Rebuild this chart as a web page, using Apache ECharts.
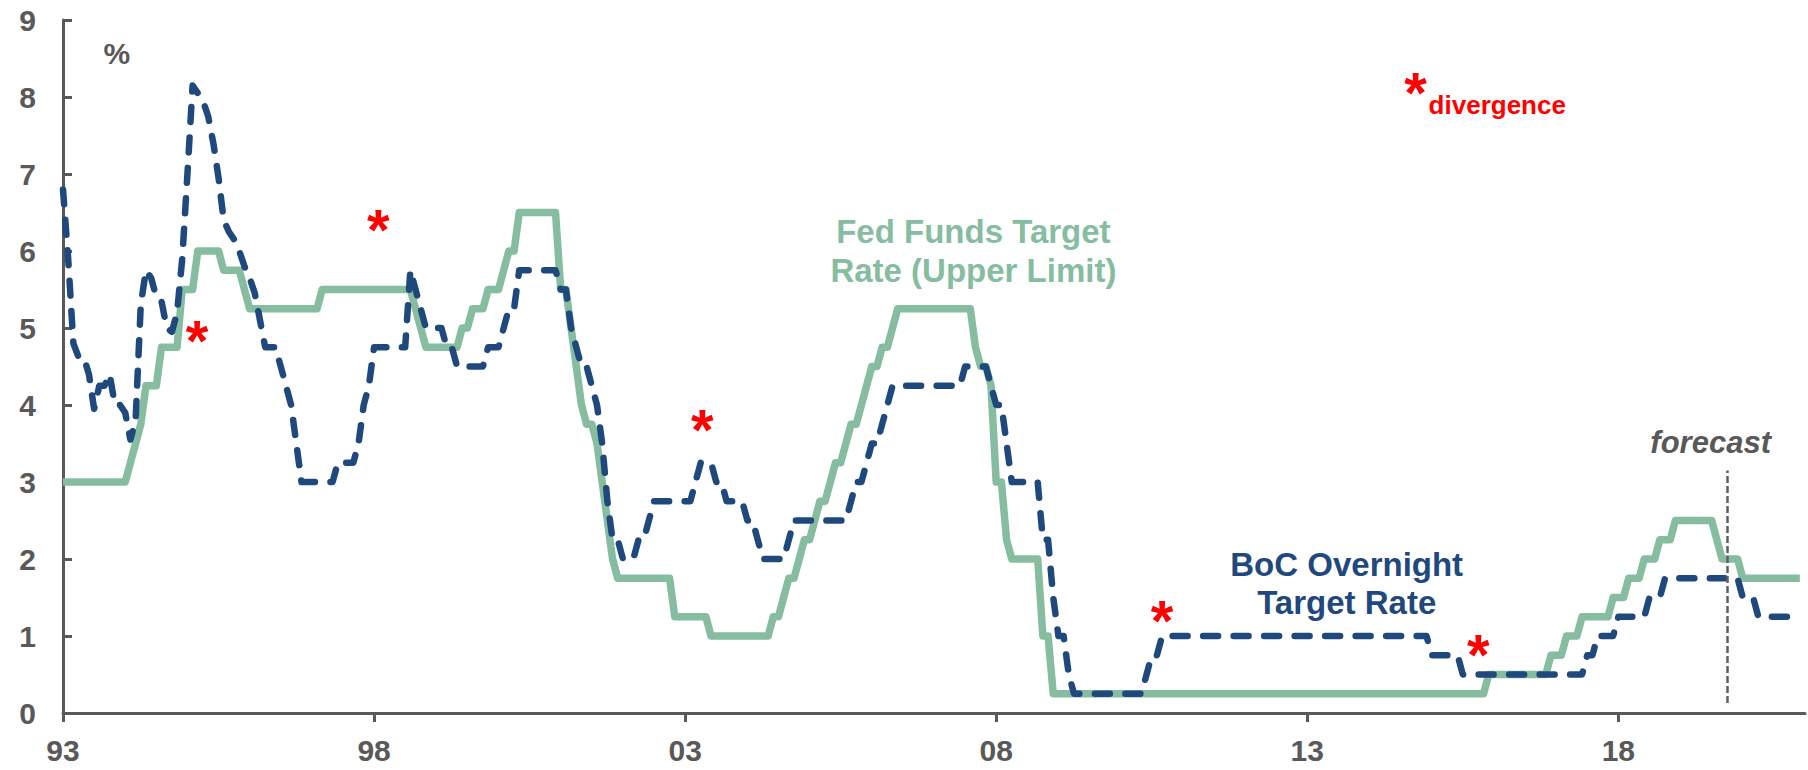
<!DOCTYPE html>
<html>
<head>
<meta charset="utf-8">
<script src="https://cdn.jsdelivr.net/npm/echarts@6.0.0/dist/echarts.min.js"></script>
<style>
  html, body { margin: 0; padding: 0; background: #ffffff; }
  #chart { width: 1808px; height: 770px; }
</style>
</head>
<body>
<div id="chart"></div>
<script>
// Policy rates, end-of-month levels. Each entry starts a level that holds
// until the next entry.
const fedStartMonths = [
  '1993-01', '1994-02', '1994-03', '1994-04', '1994-05', '1994-08', '1994-12',
  '1995-03', '1995-08', '1995-12', '1996-01', '1997-03', '1998-09', '1998-10',
  '1998-11', '1999-06', '1999-08', '1999-11', '2000-02', '2000-03', '2000-05',
  '2001-01', '2001-03', '2001-04', '2001-05', '2001-06', '2001-08', '2001-09',
  '2001-10', '2001-11', '2001-12', '2002-11', '2003-06', '2004-06', '2004-08',
  '2004-09', '2004-11', '2004-12', '2005-02', '2005-03', '2005-05', '2005-06',
  '2005-08', '2005-09', '2005-11', '2005-12', '2006-01', '2006-03', '2006-05',
  '2006-06', '2007-09', '2007-10', '2007-12', '2008-01', '2008-03', '2008-04',
  '2008-10', '2008-12', '2015-12', '2016-12', '2017-03', '2017-06', '2017-12',
  '2018-03', '2018-06', '2018-09', '2018-12', '2019-08', '2019-09', '2020-01'
];
const fedRates = [
  3.00, 3.25, 3.50, 3.75, 4.25, 4.75, 5.50,
  6.00, 5.75, 5.50, 5.25, 5.50, 5.25, 5.00,
  4.75, 5.00, 5.25, 5.50, 5.75, 6.00, 6.50,
  5.50, 5.00, 4.50, 4.00, 3.75, 3.50, 3.00,
  2.50, 2.00, 1.75, 1.25, 1.00, 1.25, 1.50,
  1.75, 2.00, 2.25, 2.50, 2.75, 3.00, 3.25,
  3.50, 3.75, 4.00, 4.25, 4.50, 4.75, 5.00,
  5.25, 4.75, 4.50, 4.25, 3.00, 2.25, 2.00,
  1.00, 0.25, 0.50, 0.75, 1.00, 1.25, 1.50,
  1.75, 2.00, 2.25, 2.50, 2.25, 2.00, 1.75
];

const bocStartMonths = [
  '1993-01', '1993-02', '1993-03', '1993-04', '1993-06', '1993-07', '1993-08',
  '1993-10', '1993-11', '1994-01', '1994-02', '1994-03', '1994-04', '1994-05',
  '1994-06', '1994-07', '1994-08', '1994-09', '1994-10', '1994-11', '1994-12',
  '1995-01', '1995-02', '1995-03', '1995-04', '1995-05', '1995-06', '1995-07',
  '1995-08', '1995-09', '1995-10', '1995-11', '1995-12', '1996-01', '1996-02',
  '1996-03', '1996-04', '1996-07', '1996-08', '1996-09', '1996-10', '1996-11',
  '1997-06', '1997-10', '1997-11', '1997-12', '1998-01', '1998-08', '1998-09',
  '1998-10', '1998-11', '1999-03', '1999-05', '1999-11', '2000-02', '2000-03',
  '2000-05', '2001-01', '2001-03', '2001-04', '2001-05', '2001-07', '2001-08',
  '2001-09', '2001-10', '2001-11', '2002-01', '2002-04', '2002-06', '2002-07',
  '2003-03', '2003-04', '2003-07', '2003-09', '2004-01', '2004-03', '2004-04',
  '2004-09', '2004-10', '2005-09', '2005-10', '2005-12', '2006-01', '2006-03',
  '2006-04', '2006-05', '2007-07', '2007-12', '2008-01', '2008-03', '2008-04',
  '2008-10', '2008-12', '2009-01', '2009-03', '2009-04', '2010-06', '2010-07',
  '2010-09', '2015-01', '2015-07', '2017-07', '2017-09', '2018-01', '2018-07',
  '2018-10', '2020-01', '2020-04'
];
const bocRates = [
  6.80, 5.90, 4.80, 4.62, 4.40, 3.95, 4.25,
  4.40, 4.00, 3.90, 3.55, 3.80, 5.30, 5.75,
  5.65, 5.40, 5.35, 5.00, 4.95, 5.20, 5.90,
  7.00, 8.15, 8.05, 7.95, 7.75, 7.40, 6.95,
  6.40, 6.25, 6.15, 6.00, 5.80, 5.65, 5.45,
  5.10, 4.75, 4.50, 4.25, 4.00, 3.50, 3.00,
  3.25, 3.50, 4.00, 4.25, 4.75, 5.75, 5.50,
  5.25, 5.00, 4.75, 4.50, 4.75, 5.00, 5.25,
  5.75, 5.50, 5.00, 4.75, 4.50, 4.25, 4.00,
  3.50, 2.75, 2.25, 2.00, 2.25, 2.50, 2.75,
  3.00, 3.25, 3.00, 2.75, 2.50, 2.25, 2.00,
  2.25, 2.50, 2.75, 3.00, 3.25, 3.50, 3.75,
  4.00, 4.25, 4.50, 4.25, 4.00, 3.50, 3.00,
  2.25, 1.50, 1.00, 0.50, 0.25, 0.50, 0.75,
  1.00, 0.75, 0.50, 0.75, 1.00, 1.25, 1.50,
  1.75, 1.50, 1.25
];

const firstMonth = '1993-01';
const lastMonth = '2020-12';
const axisEndMonth = '2021-01';
const forecastMonth = '2019-10';

const xTickLabels = ['93', '98', '03', '08', '13', '18'];
const yTickLabels = ['0', '1', '2', '3', '4', '5', '6', '7', '8', '9'];

// ---------------------------------------------------------------------------

function monthIndex(s) {
  const [y, m] = s.split('-').map(Number);
  const [y0, m0] = firstMonth.split('-').map(Number);
  return (y - y0) * 12 + (m - m0);
}

// Expand level runs into monthly vertices (start and last month of each run).
function runsToPoints(starts, values, endMonth) {
  const pts = [];
  const end = monthIndex(endMonth);
  for (let i = 0; i < starts.length; i++) {
    const s = monthIndex(starts[i]);
    const e = i + 1 < starts.length ? monthIndex(starts[i + 1]) - 1 : end;
    pts.push([s, values[i]]);
    if (e > s) pts.push([e, values[i]]);
  }
  return pts;
}

const GREEN = '#86BC9F';
const BLUE = '#1F497D';
const GREY = '#595959';
const RED = '#FF0000';
const FONT = '"Liberation Sans", Arial, Helvetica, sans-serif';

const tickStep = 60;
const xTickValues = xTickLabels.map((_, i) => i * tickStep);

const chart = echarts.init(document.getElementById('chart'), null, { renderer: 'svg' });

chart.setOption({
  animation: false,
  backgroundColor: '#ffffff',
  grid: { left: 63, right: 3, top: 20, bottom: 57, containLabel: false, outerBoundsMode: 'none' },
  xAxis: {
    type: 'value',
    min: 0,
    max: monthIndex(axisEndMonth),
    interval: tickStep,
    splitLine: { show: false },
    axisLine: { show: true, onZero: false, lineStyle: { color: GREY, width: 3 } },
    axisTick: {
      show: true, inside: false, length: 9, customValues: xTickValues,
      lineStyle: { color: GREY, width: 3 }
    },
    axisLabel: {
      show: true, margin: 22, customValues: xTickValues,
      color: GREY, fontSize: 30, fontWeight: 'bold', fontFamily: FONT,
      formatter: v => xTickLabels[Math.round(v / tickStep)] || ''
    }
  },
  yAxis: {
    type: 'value',
    min: 0,
    max: yTickLabels.length - 1,
    interval: 1,
    splitLine: { show: false },
    axisLine: { show: true, lineStyle: { color: GREY, width: 3 } },
    axisTick: { show: true, inside: true, length: 9, lineStyle: { color: GREY, width: 3 } },
    axisLabel: {
      show: true, margin: 27,
      color: GREY, fontSize: 30, fontWeight: 'bold', fontFamily: FONT,
      formatter: v => yTickLabels[Math.round(v)]
    }
  },
  series: [
    {
      name: 'Fed Funds Target Rate (Upper Limit)',
      type: 'line',
      data: runsToPoints(fedStartMonths, fedRates, lastMonth),
      showSymbol: false,
      symbol: 'none',
      z: 2,
      lineStyle: { color: GREEN, width: 7.5, join: 'round' }
    },
    {
      name: 'BoC Overnight Target Rate',
      type: 'line',
      data: runsToPoints(bocStartMonths, bocRates, lastMonth),
      showSymbol: false,
      symbol: 'none',
      z: 3,
      lineStyle: { color: BLUE, width: 6.5, type: [15, 15.5], cap: 'round', join: 'round' },
      markLine: {
        silent: true,
        symbol: 'none',
        label: { show: false },
        z: 5,
        lineStyle: { color: '#5f5f5f', width: 2.5, type: [7, 3] },
        data: [[
          { coord: [monthIndex(forecastMonth), 0.13] },
          { coord: [monthIndex(forecastMonth), 3.15] }
        ]]
      }
    }
  ]
});

// Annotations, anchored in data space (month index, percent).
function px(m, v) { return chart.convertToPixel({ gridIndex: 0 }, [m, v]); }

const starMarks = [[25.85, 5.0], [60.8, 6.44], [123.3, 3.84], [212, 1.36], [273, 0.91]];
const STAR_SIZE = 58;
const starLift = 12;   // glyph centre sits above the em-box middle

function starText(m, v) {
  const p = px(m, v);
  return {
    type: 'text', x: p[0], y: p[1] + starLift, z: 10,
    style: {
      text: '*', fill: RED, font: 'bold ' + STAR_SIZE + 'px ' + FONT,
      align: 'center', verticalAlign: 'middle'
    }
  };
}

function labelText(m, v, text, opts) {
  const p = px(m, v);
  return {
    type: 'text', x: p[0], y: p[1], z: 10,
    style: Object.assign({ text: text, align: 'center', verticalAlign: 'middle' }, opts)
  };
}

const graphics = [];
starMarks.forEach(s => graphics.push(starText(s[0], s[1])));
graphics.push(starText(260.9, 8.22));
graphics.push(labelText(263.4, 7.90, 'divergence', {
  fill: RED, font: 'bold 26px ' + FONT, align: 'left'
}));
graphics.push(labelText(10.4, 8.57, '%', { fill: GREY, font: 'bold 30px ' + FONT }));
graphics.push(labelText(175.6, 6.0, 'Fed Funds Target\nRate (Upper Limit)', {
  fill: GREEN, font: 'bold 33px ' + FONT, lineHeight: 38.7
}));
graphics.push(labelText(247.6, 1.68, 'BoC Overnight\nTarget Rate', {
  fill: BLUE, font: 'bold 33px ' + FONT, lineHeight: 38.7
}));
graphics.push(labelText(317.8, 3.51, 'forecast', {
  fill: GREY, font: 'italic bold 31px ' + FONT
}));

chart.setOption({ graphic: { elements: graphics } });
</script>
</body>
</html>
